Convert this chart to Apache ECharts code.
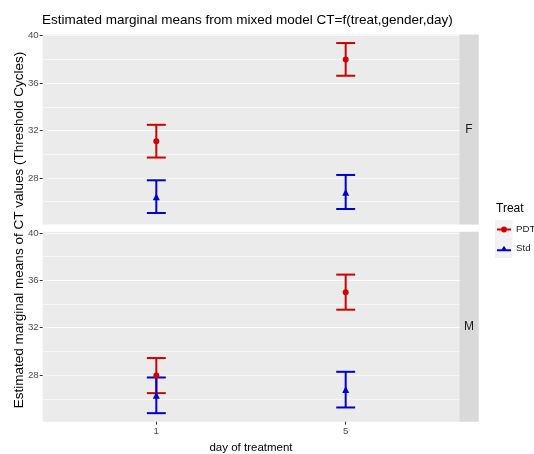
<!DOCTYPE html>
<html>
<head>
<meta charset="utf-8">
<script src="https://cdn.jsdelivr.net/npm/echarts@6/dist/echarts.min.js"></script>
<style>
html, body { margin: 0; padding: 0; background: #fff; }
#main { width: 534px; height: 454px; }
</style>
</head>
<body>
<div id="main"></div>
<script>
// x categories (day of treatment), drawn at discrete positions 1 and 2
var days = ['1', '5'];
var dayPos = [1, 2];
var genders = ['F', 'M'];
var treats = ['PDT', 'Std'];

// marginal means + error bar limits, female panel
var pdtMeanF = [31.1, 38.0];
var pdtLowF = [29.72, 36.62];
var pdtHighF = [32.48, 39.38];
var stdMeanF = [26.42, 26.8];
var stdLowF = [25.04, 25.38];
var stdHighF = [27.8, 28.25];

// male panel
var pdtMeanM = [27.96, 35.0];
var pdtLowM = [26.48, 33.52];
var pdtHighM = [29.44, 36.48];
var stdMeanM = [26.3, 26.78];
var stdLowM = [24.79, 25.27];
var stdHighM = [27.8, 28.28];

var yTicks = [28, 32, 36, 40];

var FONT = 'Liberation Sans, Arial, sans-serif';
var colors = { PDT: '#cd0000', Std: '#0000cd' };
var panelLeft = 42.7, panelWidth = 416.6, panelHeight = 190;
var panelTops = [34.5, 231.7];
var stripWidth = 19.4;
var yMin = 24.07, yMax = 40.1;
var capHalf = 0.05;

var stats = {
    F: { PDT: [pdtMeanF, pdtLowF, pdtHighF], Std: [stdMeanF, stdLowF, stdHighF] },
    M: { PDT: [pdtMeanM, pdtLowM, pdtHighM], Std: [stdMeanM, stdLowM, stdHighM] }
};

function errorBarItem(params, api) {
    var x = api.value(0);
    var top = api.coord([x, api.value(2)]);
    var bot = api.coord([x, api.value(1)]);
    var l = api.coord([x - capHalf, api.value(2)])[0];
    var r = api.coord([x + capHalf, api.value(2)])[0];
    var style = { stroke: api.visual('color'), lineWidth: 2, fill: null };
    return {
        type: 'group',
        children: [
            { type: 'line', shape: { x1: top[0], y1: top[1], x2: bot[0], y2: bot[1] }, style: style },
            { type: 'line', shape: { x1: l, y1: top[1], x2: r, y2: top[1] }, style: style },
            { type: 'line', shape: { x1: l, y1: bot[1], x2: r, y2: bot[1] }, style: style }
        ]
    };
}

var grids = [], xAxes = [], yAxes = [], series = [], graphics = [];

for (var g = 0; g < genders.length; g++) {
    var last = g === genders.length - 1;
    grids.push({ left: panelLeft, top: panelTops[g], width: panelWidth, height: panelHeight,
        outerBoundsMode: 'none', containLabel: false,
        show: true, backgroundColor: '#ebebeb', borderWidth: 0 });

    xAxes.push({
        type: 'value', gridIndex: g, min: 0.4, max: 2.6, minInterval: 1, maxInterval: 1,
        axisLine: { show: false },
        axisTick: { show: last, customValues: dayPos, length: 3, lineStyle: { color: '#333333' } },
        axisLabel: { show: last, customValues: dayPos, margin: 5, color: '#4d4d4d', fontSize: 9.7, fontFamily: FONT,
            formatter: function (v) { var i = dayPos.indexOf(v); return i >= 0 ? days[i] : ''; } },
        splitLine: { show: true, showMinLine: false, showMaxLine: false, lineStyle: { color: '#ffffff', width: 1 } },
        name: last ? 'day of treatment' : '', nameLocation: 'middle', nameGap: 20,
        nameTextStyle: { color: '#000', fontSize: 11.5, fontFamily: FONT }
    });

    // minor grid lines every 2
    yAxes.push({
        type: 'value', gridIndex: g, position: 'left', min: yMin, max: yMax, minInterval: 2, maxInterval: 2,
        axisLine: { show: false }, axisTick: { show: false }, axisLabel: { show: false },
        splitLine: { show: true, showMinLine: false, showMaxLine: false, lineStyle: { color: '#f7f7f7', width: 1 } }
    });
    // major grid lines + labels every 4
    yAxes.push({
        type: 'value', gridIndex: g, position: 'left', min: yMin, max: yMax, minInterval: 4, maxInterval: 4,
        axisLine: { show: false },
        axisTick: { show: true, customValues: yTicks, length: 3, lineStyle: { color: '#333333' } },
        axisLabel: { customValues: yTicks, margin: 4, color: '#4d4d4d', fontSize: 9.7, fontFamily: FONT,
            formatter: function (v) { return yTicks.indexOf(v) >= 0 ? String(v) : ''; } },
        splitLine: { show: true, showMinLine: false, showMaxLine: false, lineStyle: { color: '#ffffff', width: 1 } }
    });

    for (var t = 0; t < treats.length; t++) {
        var tr = treats[t];
        var s = stats[genders[g]][tr];
        var bars = [], pts = [];
        for (var i = 0; i < dayPos.length; i++) {
            bars.push([dayPos[i], s[1][i], s[2][i]]);
            pts.push([dayPos[i], s[0][i]]);
        }
        series.push({
            name: tr, type: 'custom', xAxisIndex: g, yAxisIndex: g * 2 + 1,
            renderItem: errorBarItem, encode: { x: 0, y: [1, 2] },
            itemStyle: { color: colors[tr] }, data: bars, silent: true
        });
        series.push({
            name: tr, type: 'scatter', xAxisIndex: g, yAxisIndex: g * 2 + 1,
            symbol: tr === 'PDT' ? 'circle' : 'triangle', symbolSize: tr === 'PDT' ? 6 : 7,
            itemStyle: { color: colors[tr], opacity: 1 }, data: pts, silent: true, z: 3
        });
    }

    // facet strip on the right
    graphics.push({ type: 'rect', shape: { x: panelLeft + panelWidth, y: panelTops[g], width: stripWidth, height: panelHeight },
        style: { fill: '#d9d9d9' } });
    graphics.push({ type: 'text', x: panelLeft + panelWidth + stripWidth / 2, y: panelTops[g] + panelHeight / 2,
        style: { text: genders[g], fill: '#1a1a1a', fontSize: 12, fontFamily: FONT, align: 'center', verticalAlign: 'middle' } });
}

// legend title + key background
graphics.push({ type: 'text', x: 496, y: 208.5,
    style: { text: 'Treat', fill: '#000', fontSize: 12, fontFamily: FONT, align: 'left', verticalAlign: 'middle' } });
graphics.push({ type: 'rect', shape: { x: 495, y: 220, width: 17.5, height: 38 }, style: { fill: '#f2f2f2' }, z: -1 });
// shared y axis title
graphics.push({ type: 'text', x: 19.5, y: 230, rotation: Math.PI / 2,
    style: { text: 'Estimated marginal means of CT values (Threshold Cycles)', fill: '#000', fontSize: 13.5,
        fontFamily: FONT, align: 'center', verticalAlign: 'middle' } });

var myChart = echarts.init(document.getElementById('main'), null, { renderer: 'canvas' });
myChart.setOption({
    backgroundColor: '#ffffff',
    animation: false,
    title: {
        text: 'Estimated marginal means from mixed model CT=f(treat,gender,day)',
        left: 42, top: 12, padding: 0,
        textStyle: { color: '#000', fontSize: 13.5, fontWeight: 'normal', fontFamily: FONT, lineHeight: 17 }
    },
    legend: {
        orient: 'vertical', left: 497, top: 220, padding: 0, itemGap: 0,
        itemWidth: 14, itemHeight: 19, selectedMode: false,
        textStyle: { color: '#1a1a1a', fontSize: 9.7, fontFamily: FONT, lineHeight: 19 },
        data: [
            { name: 'PDT', icon: 'path://M0,5 L14,5 L14,7 L0,7 Z M10,6 A3,3 0 1,1 4,6 A3,3 0 1,1 10,6 Z' },
            { name: 'Std', icon: 'path://M0,7 L14,7 L14,9 L0,9 Z M7,3.5 L10.5,9 L3.5,9 Z' }
        ]
    },
    grid: grids,
    xAxis: xAxes,
    yAxis: yAxes,
    series: series,
    graphic: graphics
});
</script>
</body>
</html>
